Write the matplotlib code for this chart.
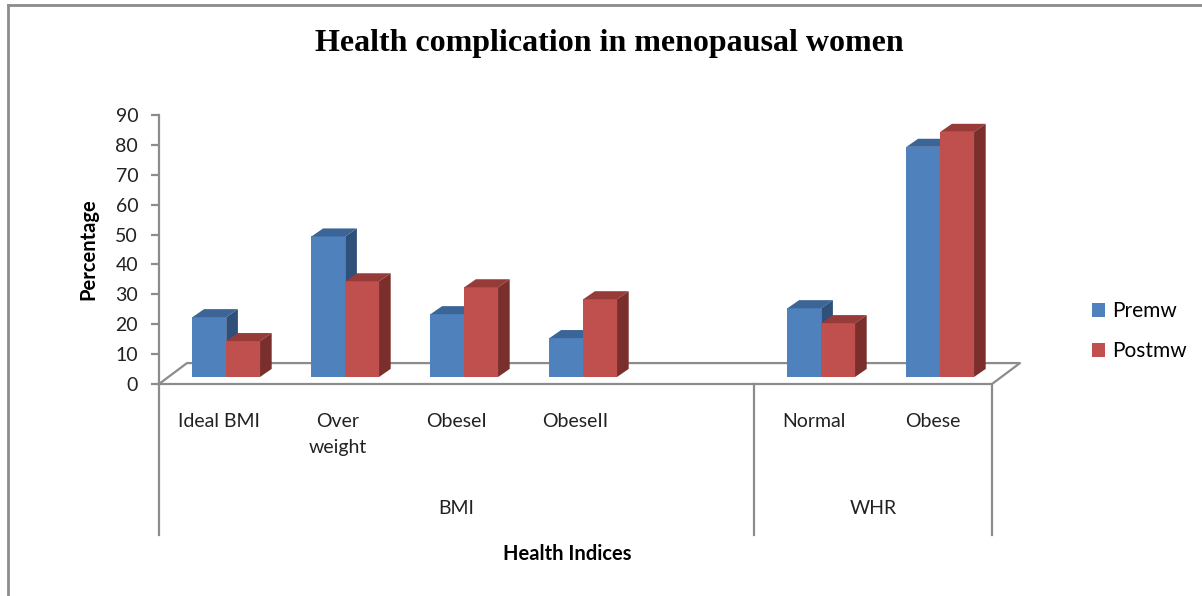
import matplotlib
matplotlib.use('Agg')
import matplotlib.pyplot as plt
from matplotlib.patches import Polygon, Patch
from matplotlib.lines import Line2D
import numpy as np

# data
categories = ['Ideal BMI', 'Over\nweight', 'ObeseI', 'ObeseII', '', 'Normal', 'Obese']
groups = ['BMI', 'WHR']
group_spans = [(0, 5), (5, 7)]   # slot ranges for each group
premw = [20, 47, 21, 13, None, 23, 77]
postmw = [12, 32, 30, 26, None, 18, 82]
series_names = ['Premw', 'Postmw']
yticks = list(range(0, 100, 10))

# colours (front, top, side)
blue = ('#4F81BD', '#3B6596', '#2F5079')
red = ('#C0504D', '#973B39', '#7A2F2D')
gray = '#8C8C8C'
txt = '#222222'

W, H = 1202, 596
fig = plt.figure(figsize=(W/100, H/100), dpi=100)
ax = fig.add_axes([159/W, (H-384)/H, 833/W, 269/H])
ax.set_xlim(-0.5, 6.5)
ax.set_ylim(0, 90)

# 3d look parameters (slot / value units)
floor_dx, floor_dy = 0.235, 7.0
bar_base = 2.35
bar_w = 0.284
pair_off = 0.065
side_dx, side_dy = 0.098, 2.7

# floor
fx = [-0.5, 6.5, 6.5+floor_dx, -0.5+floor_dx, -0.5]
fy = [0, 0, floor_dy, floor_dy, 0]
ax.plot(fx, fy, color=gray, lw=1.6, clip_on=False, zorder=1)

def bar3d(x0, h, cols):
    y0 = bar_base
    y1 = bar_base + h
    x1 = x0 + bar_w
    ax.bar(x0, h, width=bar_w, bottom=y0, align='edge', color=cols[0],
           edgecolor='none', zorder=3, clip_on=False)
    top = Polygon([(x0, y1), (x1, y1), (x1+side_dx, y1+side_dy), (x0+side_dx, y1+side_dy)],
                  closed=True, fc=cols[1], ec='none', zorder=3, clip_on=False)
    side = Polygon([(x1, y0), (x1+side_dx, y0+side_dy), (x1+side_dx, y1+side_dy), (x1, y1)],
                   closed=True, fc=cols[2], ec='none', zorder=3, clip_on=False)
    ax.add_patch(top)
    ax.add_patch(side)

for i in range(len(categories)):
    if premw[i] is None:
        continue
    c = i + pair_off
    bar3d(c - bar_w, premw[i], blue)
    bar3d(c, postmw[i], red)

# axes styling
for s in ['top', 'right', 'bottom']:
    ax.spines[s].set_visible(False)
ax.spines['left'].set_color(gray)
ax.spines['left'].set_linewidth(1.6)
ax.set_yticks(yticks)
ax.tick_params(axis='y', length=6, width=1.6, color=gray, pad=9,
               labelsize=14, labelcolor=txt)
for lbl in ax.get_yticklabels():
    lbl.set_family('Lato')

ax.set_xticks(range(len(categories)))
ax.set_xticklabels(categories, fontsize=14, family='Lato', color=txt,
                   linespacing=1.6, va='top')
ax.tick_params(axis='x', length=0, pad=21)

# group separator lines and group labels
for xv in [-0.5, 4.5, 6.5]:
    ax.plot([xv, xv], [0, -50.5], color=gray, lw=1.6, clip_on=False)
for g, (a, b) in zip(groups, group_spans):
    ax.text((a + b - 1) / 2.0, -41.5, g, ha='center', va='center',
            fontsize=14, family='Lato', color=txt, clip_on=False)

ax.text(2.93, -57, 'Health Indices', ha='center', va='center', fontsize=14.5,
        family='Lato', weight='bold', clip_on=False)
ax.set_ylabel('Percentage', fontsize=14.5, family='Lato', weight='bold', labelpad=12)

fig.text(0.507, 1 - 44/H, 'Health complication in menopausal women', ha='center',
         va='center', fontsize=23, family='Liberation Serif', weight='bold')

handles = [Patch(fc=blue[0], ec='none'), Patch(fc=red[0], ec='none')]
fig.legend(handles, series_names, loc='center left', bbox_to_anchor=(1073/W, 1 - 331/H),
           frameon=False, prop={'family': 'Lato', 'size': 15}, handlelength=0.65,
           handleheight=0.65, handletextpad=0.35, labelspacing=0.95)

# outer chart frame (left and top only visible)
fig.add_artist(Line2D([8/W, 8/W], [0, 1 - 5/H], color=gray, lw=2, transform=fig.transFigure))
fig.add_artist(Line2D([8/W, 1], [1 - 5/H, 1 - 5/H], color=gray, lw=2, transform=fig.transFigure))

fig.savefig('out.png', dpi=100)
